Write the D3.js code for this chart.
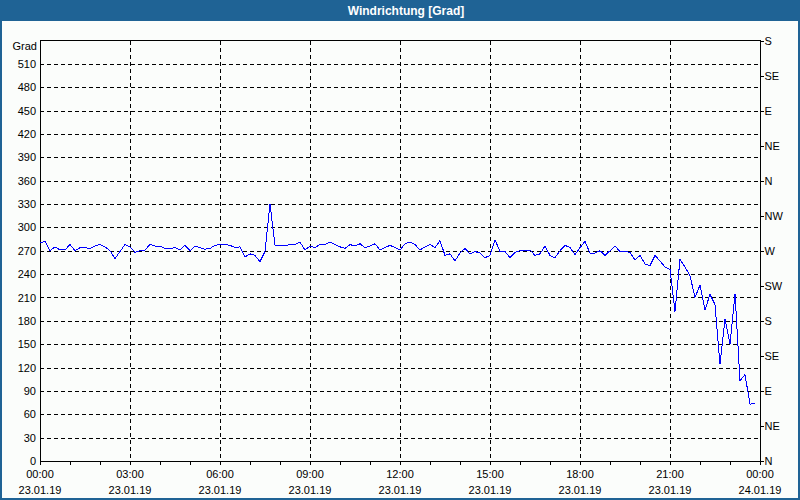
<!DOCTYPE html>
<html><head><meta charset="utf-8">
<script src="https://cdn.jsdelivr.net/npm/d3@7/dist/d3.min.js"></script>
<style>
html,body{margin:0;padding:0;background:#1f6395;}
svg{display:block;}
text{font-family:"Liberation Sans",Arial,sans-serif;font-size:11px;fill:#000;}
</style></head>
<body>
<svg id="chart" width="800" height="500"></svg>
<script>
const title = "Windrichtung [Grad]";
const yUnit = "Grad";
const startTime = "2019-01-23T00:00:00";
const endTime = "2019-01-24T00:00:00";
const stepMinutes = 10;
const yTicks = [0,30,60,90,120,150,180,210,240,270,300,330,360,390,420,450,480,510];
const compassTicks = [0,45,90,135,180,225,270,315,360,405,450,495,540];
const compassLabels = ["N","NE","E","SE","S","SW","W","NW","N","NE","E","SE","S"];
const values = [
280,282,270,275,271,271,278,270,274,274,273,276,278,275,270,260,269,278,275,268,
270,271,278,276,276,273,273,274,271,277,270,276,274,272,273,277,278,278,277,274,
275,262,266,264,256,269,330,277,277,276,278,278,281,271,276,274,278,278,281,278,
275,273,278,276,279,274,276,279,271,274,277,274,271,279,281,278,271,275,278,274,
283,264,266,257,267,273,266,269,267,261,264,284,269,269,261,268,270,270,271,264,
266,276,264,261,270,277,274,265,274,282,267,267,270,264,270,276,269,269,268,258,
264,253,251,264,257,249,246,192,259,249,238,210,226,194,214,201,124,182,150,215,
103,111,73,74
];

const svg = d3.select("#chart");
const W = 800, H = 500;
const L = 40, R = 760, T = 40.5, B = 461;

// frame
svg.append("rect").attr("x",0).attr("y",0).attr("width",W).attr("height",H).attr("fill","#1f6395");
svg.append("rect").attr("x",2).attr("y",21).attr("width",W-4).attr("height",H-23).attr("fill","#fbfdfb");
svg.append("text").attr("x",406).attr("y",15).attr("text-anchor","middle")
  .style("font-weight","bold").style("font-size","12px").style("fill","#ffffff").text(title);

const t0 = new Date(startTime), t1 = new Date(endTime);
const x = d3.scaleTime().domain([t0,t1]).range([L,R]);
const y = d3.scaleLinear().domain([0,540]).range([B,T]);

const data = values.map((v,i)=>({t:new Date(t0.getTime()+i*stepMinutes*60000), v}));

const g = svg.append("g").attr("shape-rendering","crispEdges");
// horizontal grid
g.selectAll("line.hg").data(yTicks.filter(d=>d>0)).join("line")
  .attr("x1",L).attr("x2",R).attr("y1",d=>Math.round(y(d))+0.5).attr("y2",d=>Math.round(y(d))+0.5)
  .attr("stroke","#000").attr("stroke-dasharray","4,3");
// vertical grid
const majors = d3.timeHour.every(3).range(t0, d3.timeHour.offset(t1,1));
g.selectAll("line.vg").data(majors.filter(d=>d>t0 && d<t1)).join("line")
  .attr("x1",d=>Math.round(x(d))+0.5).attr("x2",d=>Math.round(x(d))+0.5).attr("y1",T).attr("y2",B)
  .attr("stroke","#000").attr("stroke-dasharray","4,3");

// bottom axis
const xAxis = d3.axisBottom(x).ticks(d3.timeHour.every(1)).tickSize(3).tickFormat("");
const xa = svg.append("g").attr("transform",`translate(0,${B+0.5})`).attr("shape-rendering","crispEdges").call(xAxis);
xa.select(".domain").remove();
xa.selectAll("line").attr("stroke","#000");
// x labels
const fTime = d3.timeFormat("%H:%M"), fDate = d3.timeFormat("%d.%m.%y");
const xl = svg.append("g");
xl.selectAll("text.t").data(majors.filter(d=>d<=t1)).join("text")
  .attr("x",d=>x(d)).attr("y",478).attr("text-anchor","middle").text(d=>fTime(d));
xl.selectAll("text.d").data(majors.filter(d=>d<=t1)).join("text")
  .attr("x",d=>x(d)).attr("y",494).attr("text-anchor","middle").text(d=>fDate(d));

// left axis labels
const ya = svg.append("g").attr("transform",`translate(${L},0)`).call(d3.axisLeft(y).tickValues(yTicks).tickSize(0).tickPadding(4));
ya.select(".domain").remove();
ya.selectAll("text").style("font-family","'Liberation Sans',Arial,sans-serif").style("font-size","11px").attr("fill","#000");
svg.append("text").attr("x",37).attr("y",50).attr("text-anchor","end").text(yUnit);

// right axis
const ra = svg.append("g").attr("transform",`translate(${R+0.5},0)`).attr("shape-rendering","crispEdges")
  .call(d3.axisRight(y).tickValues(compassTicks).tickSize(3).tickPadding(1).tickFormat((d,i)=>compassLabels[i]));
ra.select(".domain").remove();
ra.selectAll("line").attr("stroke","#000");
ra.selectAll("text").style("font-family","'Liberation Sans',Arial,sans-serif").style("font-size","11px").attr("fill","#000");

// plot border
svg.append("rect").attr("x",L+0.5).attr("y",T).attr("width",R-L).attr("height",B-T)
  .attr("fill","none").attr("stroke","#000").attr("shape-rendering","crispEdges");

// data line
svg.append("path").datum(data)
  .attr("d", d3.line().x(d=>x(d.t)).y(d=>y(d.v)))
  .attr("fill","none").attr("stroke","#0000ff").attr("stroke-width",1)
  .attr("shape-rendering","crispEdges");
</script>
</body></html>
